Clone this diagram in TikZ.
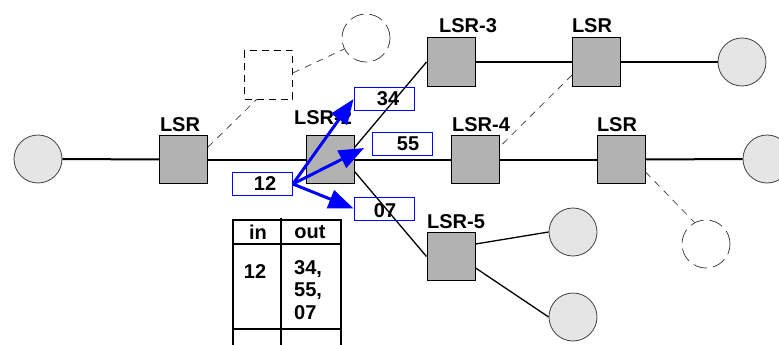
\documentclass[tikz,border=0pt]{standalone}
\usepackage{fontspec}
\setmainfont{Liberation Sans}
\usetikzlibrary{arrows.meta}
\begin{document}
\begin{tikzpicture}[x=1pt,y=-1pt,
 font=\fontsize{20}{22.5}\selectfont\bfseries,
 router/.style={draw=black, line width=1pt, fill=black!30, minimum size=48pt, inner sep=0pt},
 hostnode/.style={circle, draw=black!75, line width=0.8pt, fill=black!10, minimum size=48pt, inner sep=0pt},
 ghostbox/.style={draw=black, line width=1pt, dash pattern=on 7pt off 5pt, minimum size=48pt, inner sep=0pt},
 ghosthost/.style={circle, draw=black!80, line width=0.7pt, dash pattern=on 14pt off 6pt, minimum size=48pt, inner sep=0pt},
 link/.style={line width=2pt},
 thinlink/.style={line width=1.3pt},
 dlink/.style={draw=black!70, line width=0.8pt, dash pattern=on 7pt off 6pt},
 lbl/.style={inner sep=0pt},
 tagbox/.style={draw=blue, line width=0.8pt, minimum width=60pt, minimum height=23pt, inner sep=0pt},
 labelarrow/.style={draw=blue, line width=3pt, -{Triangle[length=25pt,width=19pt]}},
 grid line/.style={line width=1.6pt}
]
\useasboundingbox (0,0) rectangle (779,345);
% hosts
\node[hostnode] (h1) at (38,159) {};
\node[hostnode] (h2) at (742,62) {};
\node[hostnode] (h3) at (767,159) {};
\node[hostnode] (h4) at (573,232) {};
\node[hostnode] (h5) at (573,317) {};
\node[ghosthost] (g1) at (366,38) {};
\node[ghosthost] (g2) at (706,244) {};
\node[ghostbox] (gb) at (268.5,75) {};
% routers
\node[router] (r1) at (183.5,159.5) {};
\node[router] (r2) at (330,159.5) {};
\node[router] (r3) at (451,62) {};
\node[router] (r6) at (596.5,62) {};
\node[router] (r4) at (475,159.5) {};
\node[router] (r7) at (621,159.5) {};
\node[router] (r5) at (451,256.5) {};
% links
\draw[link] (h1) -- (r1);
\draw[link] (r1) -- (r2);
\draw[link] (r2) -- (r4);
\draw[link] (r4) -- (r7);
\draw[link] (r7) -- (h3);
\draw[link] (r3) -- (r6);
\draw[link] (r6) -- (h2);
\draw[thinlink] (r2.26.6) -- (r3.west);
\draw[thinlink] (r2.-26.6) -- (r5.west);
\draw[thinlink] (r5.27.5) -- (h4.west);
\draw[thinlink] (r5.-25.6) -- (h5.west);
% dashed links
\draw[dlink] (r1.27) -- (gb.244);
\draw[dlink] (gb.5) -- (g1.207);
\draw[dlink] (r6.208) -- (r4.27.5);
\draw[dlink] (r7.-27.5) -- (g2.118.6);
% router labels
\node[lbl] (l1) at (180,124.5) {LSR};
\node[lbl] (l2) at (323,118) {LSR-2};
\node[lbl] (l3) at (468,26) {LSR-3};
\node[lbl] (l6) at (592,26) {LSR};
\node[lbl] (l4) at (481,125) {LSR-4};
\node[lbl] (l7) at (617,125) {LSR};
\node[lbl] (l5) at (456,221.5) {LSR-5};
% label boxes
\node[tagbox] (b12) at (262.5,184) {};
\node[tagbox] (b34) at (384,99) {};
\node[tagbox] (b55) at (402.5,144) {};
\node[tagbox] (b07) at (384,208.5) {};
\node[lbl] (t12) at (265,184) {12};
\node[lbl] (t34) at (388,99) {34};
\node[lbl] (t55) at (408,144) {55};
\node[lbl] (t07) at (385,211) {07};
% label swapping arrows
\draw[labelarrow] (b12.east) -- (b34.west);
\draw[labelarrow] (b12.east) -- ([xshift=-8pt,yshift=-4pt]b55.west);
\draw[labelarrow] (b12.east) -- (b07.west);
% table
\draw[grid line] (233,345) -- (233,220) -- (341,220) -- (341,345);
\draw[grid line] (281,218) -- (281,345);
\draw[grid line] (233,244) -- (341,244);
\draw[grid line] (233,329) -- (341,329);
\node[lbl] (tin) at (258,232) {in};
\node[lbl] (tout) at (310,232) {out};
\node[lbl] (tin12) at (255,272) {12};
\node[lbl, anchor=north west, align=left] (touts) at (294,260) {34,\\55,\\07};
\end{tikzpicture}
\end{document}
